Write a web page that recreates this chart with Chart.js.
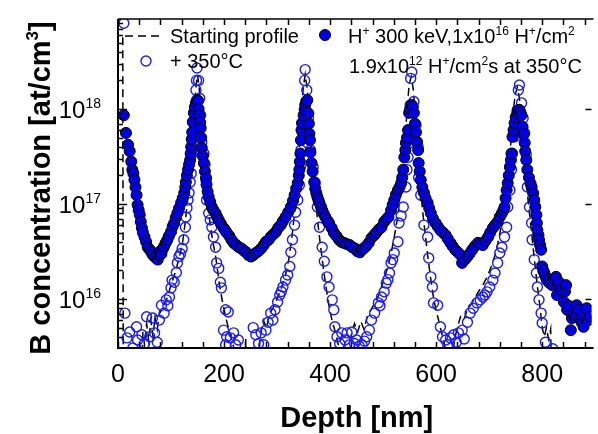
<!DOCTYPE html>
<html>
<head>
<meta charset="utf-8">
<script src="https://cdn.jsdelivr.net/npm/chart.js@4.4.1/dist/chart.umd.min.js"></script>
<style>
  html, body { margin: 0; padding: 0; background: #fff; }
  #wrap { width: 598px; height: 434px; }
</style>
</head>
<body>
<div id="wrap"><canvas id="chart" width="598" height="434"></canvas></div>
<script>
// H+ implanted (filled circles)
const filledDepth = [11, 15, 19, 22, 25, 27, 29, 31, 33, 35, 37, 39, 41, 43, 45, 47, 50, 53, 56, 60, 63, 66, 69, 72, 75, 78, 80, 82, 85, 87, 90, 93, 96, 100, 103, 106, 109, 112, 115, 119, 122, 125, 127, 128, 130, 132, 134, 136, 137, 138, 139, 140, 141, 143, 145, 147, 149, 151, 152, 153, 155, 156, 157, 158, 160, 162, 164, 166, 167, 169, 171, 174, 177, 180, 184, 187, 190, 194, 199, 202, 205, 210, 214, 218, 223, 228, 233, 238, 242, 246, 251, 255, 260, 265, 270, 275, 279, 284, 288, 293, 298, 302, 307, 311, 316, 321, 326, 330, 333, 336, 339, 341, 342, 343, 344, 345, 346, 347, 350, 352, 353, 355, 357, 359, 360, 361, 362, 363, 365, 367, 370, 372, 374, 376, 378, 380, 383, 385, 388, 391, 395, 398, 403, 407, 412, 417, 421, 426, 431, 437, 442, 447, 451, 456, 460, 463, 468, 473, 478, 483, 487, 492, 497, 502, 506, 510, 515, 518, 521, 524, 528, 531, 534, 536, 538, 540, 542, 543, 545, 547, 549, 551, 554, 556, 558, 560, 562, 564, 566, 567, 569, 571, 574, 577, 580, 584, 587, 590, 594, 599, 603, 608, 613, 618, 622, 627, 631, 636, 641, 646, 649, 654, 659, 663, 668, 673, 679, 683, 688, 693, 698, 702, 707, 711, 716, 720, 724, 727, 729, 731, 733, 735, 737, 739, 741, 742, 744, 746, 748, 750, 753, 755, 757, 759, 761, 763, 765, 767, 768, 770, 772, 775, 778, 780, 783, 785, 787, 789, 790, 791, 793, 794, 796, 798, 800, 802, 804, 807, 809, 813, 816, 819, 823, 826, 828, 830, 832, 835, 838, 841, 843, 845, 847, 850, 854, 856, 859, 863, 865, 868, 871, 874, 876, 878, 881, 884, 887, 890];
const filledConc = [8.6e17, 5.6e17, 4.2e17, 3.6e17, 2.8e17, 2.3e17, 2.1e17, 1.8e17, 1.5e17, 1.24e17, 9.8e16, 8.6e16, 7.7e16, 6.5e16, 5.6e16, 5.0e16, 4.5e16, 4.0e16, 3.5e16, 3.3e16, 3.1e16, 2.9e16, 2.8e16, 2.7e16, 2.6e16, 2.9e16, 3.2e16, 3.0e16, 3.4e16, 3.6e16, 3.9e16, 4.2e16, 4.6e16, 5.1e16, 5.8e16, 6.3e16, 7.2e16, 8.0e16, 9.0e16, 1.03e17, 1.15e17, 1.31e17, 1.5e17, 1.7e17, 2.0e17, 2.3e17, 2.6e17, 2.9e17, 3.4e17, 4.0e17, 4.8e17, 5.7e17, 7.3e17, 9.1e17, 1.05e18, 1.16e18, 1.24e18, 1.22e18, 1.0e18, 8.6e17, 7.2e17, 6.3e17, 5.0e17, 3.9e17, 3.2e17, 2.7e17, 2.2e17, 1.88e17, 1.6e17, 1.35e17, 1.19e17, 1.05e17, 9.3e16, 8.6e16, 8.0e16, 7.3e16, 6.8e16, 6.2e16, 5.6e16, 5.3e16, 5.0e16, 4.6e16, 4.2e16, 3.9e16, 3.7e16, 3.5e16, 3.4e16, 3.2e16, 3.1e16, 2.9e16, 2.8e16, 2.9e16, 3.05e16, 3.2e16, 3.4e16, 3.7e16, 4.0e16, 4.2e16, 4.5e16, 4.8e16, 5.1e16, 5.6e16, 6.0e16, 6.6e16, 7.3e16, 8.2e16, 9.3e16, 1.08e17, 1.24e17, 1.45e17, 1.66e17, 2.0e17, 2.3e17, 2.8e17, 3.4e17, 4.7e17, 6.0e17, 7.1e17, 8.6e17, 9.8e17, 1.1e18, 1.2e18, 1.24e18, 9.0e17, 7.0e17, 5.5e17, 4.7e17, 3.5e17, 2.7e17, 2.2e17, 1.7e17, 1.45e17, 1.3e17, 1.19e17, 1.1e17, 1.03e17, 9.3e16, 8.6e16, 7.9e16, 7.3e16, 6.7e16, 6.3e16, 5.6e16, 5.0e16, 4.6e16, 4.2e16, 4.0e16, 3.9e16, 3.8e16, 3.7e16, 3.5e16, 3.4e16, 3.2e16, 3.1e16, 3.3e16, 3.4e16, 3.6e16, 3.9e16, 4.4e16, 4.7e16, 5.0e16, 5.4e16, 5.7e16, 6.5e16, 6.9e16, 7.3e16, 8.6e16, 9.8e16, 1.1e17, 1.25e17, 1.4e17, 1.5e17, 1.66e17, 1.9e17, 2.3e17, 3.1e17, 3.7e17, 4.4e17, 5.0e17, 6.0e17, 9.1e17, 1.0e18, 1.1e18, 1.05e18, 9.1e17, 7.0e17, 5.7e17, 4.5e17, 3.7e17, 2.7e17, 2.2e17, 1.79e17, 1.5e17, 1.31e17, 1.15e17, 1.03e17, 9.0e16, 8.0e16, 7.0e16, 6.3e16, 5.8e16, 5.3e16, 5.0e16, 4.7e16, 4.3e16, 3.9e16, 3.6e16, 3.3e16, 3.1e16, 2.9e16, 2.4e16, 2.6e16, 2.8e16, 3.0e16, 3.3e16, 3.6e16, 3.9e16, 3.8e16, 3.7e16, 4.1e16, 4.5e16, 5.0e16, 5.6e16, 6.0e16, 6.5e16, 7.3e16, 8.0e16, 8.6e16, 9.3e16, 1.15e17, 1.4e17, 1.66e17, 2.0e17, 2.45e17, 2.9e17, 3.4e17, 5.1e17, 6.0e17, 7.1e17, 8.2e17, 9.1e17, 9.6e17, 9.8e17, 9.2e17, 8.6e17, 6.5e17, 5.4e17, 4.4e17, 3.6e17, 2.9e17, 2.3e17, 1.9e17, 1.65e17, 1.51e17, 1.3e17, 1.1e17, 9.3e16, 7.7e16, 6.3e16, 5.3e16, 4.7e16, 4.2e16, 3.7e16, 3.3e16, 2.2e16, 2.0e16, 1.88e16, 1.7e16, 1.58e16, 1.5e16, 1.45e16, 1.4e16, 1.55e16, 1.71e16, 1.1e16, 1.45e16, 1.5e16, 1.24e16, 1.3e16, 9.3e15, 1.2e16, 1.4e16, 7.7e15, 8.5e15, 4.7e15, 6.3e15, 7.0e15, 6.5e15, 8.6e15, 7.7e15, 6.2e15, 5.7e15, 6.8e15, 5.1e15, 6.5e15, 8.0e15, 6.0e15, 6.5e15];

// + 350°C (open circles)
const openDepth = [11, 13, 17, 22, 28, 35, 37, 45, 50, 54, 60, 65, 69, 74, 78, 82, 87, 91, 94, 97, 100, 102, 106, 110, 112, 115, 118, 121, 124, 127, 128, 130, 132, 134, 136, 138, 140, 143, 147, 147, 148, 149, 152, 154, 156, 158, 162, 164, 166, 167, 171, 174, 177, 180, 184, 186, 190, 193, 195, 199, 203, 203, 205, 208, 212, 218, 222, 227, 255, 260, 265, 270, 275, 279, 283, 288, 292, 296, 301, 305, 308, 311, 316, 320, 324, 326, 329, 333, 335, 339, 342, 344, 345, 348, 352, 352, 353, 356, 359, 363, 368, 372, 376, 380, 385, 389, 394, 398, 404, 407, 409, 413, 418, 422, 428, 432, 437, 441, 446, 450, 455, 460, 465, 469, 474, 478, 484, 491, 494, 497, 502, 506, 509, 512, 515, 518, 521, 528, 530, 534, 538, 543, 545, 547, 549, 550, 551, 552, 554, 558, 562, 566, 567, 571, 577, 584, 586, 590, 593, 595, 603, 608, 612, 618, 622, 627, 633, 638, 642, 649, 653, 659, 664, 670, 677, 683, 688, 692, 696, 701, 707, 711, 716, 720, 724, 729, 733, 735, 739, 742, 744, 748, 752, 753, 755, 757, 761, 764, 767, 770, 772, 776, 780, 781, 785, 789, 791, 794, 798, 800, 806, 820];
const openConc = [8.0e18, 7.1e15, 3.9e15, 4.5e15, 3.05e15, 5.1e15, 3.7e15, 4.2e15, 3.4e15, 6.5e15, 4.0e15, 6.3e15, 4.4e15, 3.5e15, 6.0e15, 8.6e15, 7.1e15, 9.8e15, 8.5e15, 1.05e16, 1.31e16, 1.58e16, 1.5e16, 1.9e16, 2.4e16, 2.8e16, 3.0e16, 3.4e16, 4.2e16, 5.7e16, 7.3e16, 9.1e16, 1.1e17, 1.31e17, 1.7e17, 2.1e17, 3.4e17, 4.5e17, 6.5e17, 1.58e18, 2.0e18, 2.7e18, 2.0e18, 1.3e18, 8.6e17, 4.5e17, 3.4e17, 2.6e17, 1.79e17, 1.1e17, 8.0e16, 6.8e16, 5.7e16, 4.5e16, 3.5e16, 2.4e16, 2.1e16, 1.5e16, 1.31e16, 4.7e15, 7.7e15, 3.3e15, 4.0e15, 7.3e15, 3.9e15, 4.4e15, 3.3e15, 3.7e15, 5.0e15, 4.2e15, 3.4e15, 4.4e15, 3.3e15, 4.7e15, 5.7e15, 7.1e15, 6.0e15, 7.7e15, 9.3e15, 1.1e16, 1.2e16, 1.34e16, 1.58e16, 1.79e16, 2.2e16, 3.1e16, 4.2e16, 6.0e16, 8.2e16, 1.1e17, 1.58e17, 2.45e17, 3.7e17, 5.6e17, 7.7e17, 2.0e18, 2.6e18, 1.58e18, 8.0e17, 3.7e17, 2.45e17, 1.66e17, 9.3e16, 5.7e16, 3.5e16, 2.5e16, 1.71e16, 1.34e16, 9.8e15, 7.7e15, 5.1e15, 4.0e15, 3.4e15, 4.4e15, 3.7e15, 4.4e15, 3.3e15, 4.5e15, 3.4e15, 3.7e15, 3.2e15, 3.3e15, 3.6e15, 4.0e15, 4.7e15, 6.0e15, 7.1e15, 9.1e15, 8.5e15, 1.05e16, 1.19e16, 1.47e16, 1.6e16, 1.88e16, 2.4e16, 2.6e16, 3.05e16, 4.0e16, 6.3e16, 7.5e16, 9.3e16, 1.51e17, 2.3e17, 3.1e17, 4.4e17, 6.0e17, 1.1e18, 2.1e18, 2.45e18, 1.2e18, 6.8e17, 4.0e17, 1.9e17, 1.24e17, 6.0e16, 4.5e16, 2.7e16, 1.71e16, 1.34e16, 9.1e15, 8.6e15, 5.1e15, 4.0e15, 3.7e15, 3.3e15, 3.9e15, 4.2e15, 3.5e15, 4.4e15, 4.7e15, 3.8e15, 5.7e15, 7.1e15, 8.0e15, 9.1e15, 9.8e15, 1.05e16, 1.1e16, 1.19e16, 1.34e16, 1.58e16, 1.88e16, 2.4e16, 3.05e16, 3.5e16, 4.5e16, 5.7e16, 9.3e16, 1.4e17, 2.3e17, 3.4e17, 5.1e17, 6.8e17, 9.8e17, 1.58e18, 1.79e18, 1.16e18, 8.0e17, 5.6e17, 3.3e17, 1.51e17, 9.3e16, 6.3e16, 4.2e16, 2.6e16, 1.88e16, 1.34e16, 9.8e15, 7.1e15, 5.6e15, 3.5e15, 3.0e15];

// Starting profile (dashed line); 1e15 = below the axis
const startDepth = [9, 10, 44, 47, 50, 54, 58, 62, 66, 70, 74, 78, 84, 92, 100, 108, 116, 122, 127, 131, 135, 139, 143, 147, 150, 153, 157, 161, 165, 169, 174, 179, 185, 190, 196, 203, 210, 216, 222, 228, 238, 241, 244, 262, 268, 274, 280, 286, 292, 300, 308, 316, 322, 328, 333, 337, 341, 345, 349, 353, 357, 361, 366, 371, 376, 381, 386, 391, 397, 404, 410, 416, 422, 436, 440, 446, 452, 458, 464, 470, 476, 484, 492, 500, 508, 515, 521, 527, 532, 537, 541, 545, 549, 553, 557, 561, 565, 570, 575, 580, 585, 590, 596, 603, 610, 616, 620, 630, 634, 640, 646, 652, 658, 664, 672, 680, 688, 696, 704, 712, 719, 725, 731, 736, 741, 745, 749, 753, 757, 761, 765, 770, 775, 780, 785, 790, 795, 800, 804, 808, 812, 816, 818, 893];
const startConc = [5.7e18, 1e15, 1e15, 4.5e15, 3.3e15, 5.5e15, 3.6e15, 6.0e15, 4.0e15, 6.5e15, 4.8e15, 7.0e15, 8.0e15, 1.0e16, 1.4e16, 1.9e16, 2.8e16, 4.0e16, 6.5e16, 1.1e17, 2.0e17, 4.0e17, 8.0e17, 1.7e18, 2.3e18, 1.7e18, 8.0e17, 3.6e17, 1.9e17, 1.0e17, 6.0e16, 4.0e16, 2.6e16, 1.6e16, 1.0e16, 6.5e15, 4.5e15, 3.5e15, 2.5e15, 1e15, 1e15, 3.8e15, 1e15, 1e15, 4.0e15, 6.0e15, 5.0e15, 7.0e15, 8.0e15, 1.0e16, 1.3e16, 1.8e16, 2.6e16, 4.5e16, 8.0e16, 1.5e17, 3.0e17, 6.5e17, 1.6e18, 2.3e18, 1.6e18, 7.0e17, 3.0e17, 1.4e17, 7.0e16, 4.0e16, 2.4e16, 1.5e16, 9.0e15, 5.8e15, 4.5e15, 3.2e15, 1e15, 1e15, 4.2e15, 5.5e15, 4.5e15, 5.8e15, 4.8e15, 6.5e15, 7.5e15, 9.0e15, 1.1e16, 1.5e16, 2.1e16, 3.0e16, 4.5e16, 7.0e16, 1.2e17, 2.3e17, 4.5e17, 9.5e17, 1.8e18, 2.2e18, 1.6e18, 8.0e17, 3.5e17, 1.6e17, 8.0e16, 4.5e16, 2.6e16, 1.6e16, 9.5e15, 6.5e15, 4.5e15, 3.3e15, 1e15, 1e15, 3.6e15, 5.0e15, 6.5e15, 6.0e15, 7.5e15, 8.5e15, 1.0e16, 1.2e16, 1.4e16, 1.7e16, 2.2e16, 3.0e16, 4.5e16, 7.0e16, 1.2e17, 2.2e17, 4.5e17, 9.0e17, 1.4e18, 1.7e18, 1.3e18, 7.0e17, 3.5e17, 1.7e17, 9.0e16, 5.0e16, 2.7e16, 1.5e16, 9.0e15, 5.0e15, 4.0e15, 5.0e15, 3.8e15, 4.8e15, 1e15, 1e15];

// axes
const xMin = 0;
const xMax = 893;
const yMin = 3.05e15;
const yMax = 8.86e18;
const xTickStep = 40;
const xLabels = [0, 200, 400, 600, 800];
const yDecades = [16, 17, 18];

const FONT = '"Liberation Sans", Arial, Helvetica, sans-serif';

function pairs(xs, ys) {
  return xs.map((x, i) => ({ x, y: ys[i] }));
}

// text pieces [text, isSup], drawn from x (left) on baseline y
function richWidth(ctx, parts, size, weight) {
  let w = 0;
  parts.forEach(([t, sup]) => {
    ctx.font = `${weight || ''} ${sup ? Math.round(size * 0.6) : size}px ${FONT}`;
    w += ctx.measureText(t).width;
  });
  return w;
}

function drawRich(ctx, parts, x, y, size, weight) {
  let cx = x;
  parts.forEach(([t, sup]) => {
    const s = sup ? Math.round(size * 0.6) : size;
    ctx.font = `${weight || ''} ${s}px ${FONT}`;
    ctx.fillText(t, cx, sup ? y - size * 0.42 : y);
    cx += ctx.measureText(t).width;
  });
  return cx;
}

const framePlugin = {
  id: 'frame',
  afterDraw(chart) {
    const { ctx, chartArea: a, scales } = chart;
    const xs = scales.x;
    const ys = scales.y;
    ctx.save();
    ctx.strokeStyle = '#000';
    ctx.fillStyle = '#000';
    ctx.textBaseline = 'alphabetic';
    ctx.textAlign = 'left';

    // frame lines
    ctx.lineWidth = 2;
    ctx.beginPath();
    ctx.moveTo(a.left, a.top);
    ctx.lineTo(a.left, a.bottom);
    ctx.lineTo(a.right + 2, a.bottom);
    ctx.stroke();
    ctx.lineWidth = 1.5;
    ctx.beginPath();
    ctx.moveTo(a.left, a.top);
    ctx.lineTo(a.right + 2, a.top);
    ctx.stroke();

    // x ticks, pointing inwards, bottom and top
    ctx.lineWidth = 1.5;
    for (let v = xMin; v <= xMax; v += xTickStep) {
      const px = Math.round(xs.getPixelForValue(v)) + 0.5;
      ctx.beginPath();
      ctx.moveTo(px, a.bottom);
      ctx.lineTo(px, a.bottom - 6);
      ctx.moveTo(px, a.top);
      ctx.lineTo(px, a.top + 6);
      ctx.stroke();
    }

    // y ticks: majors at decades, minors 2..9
    for (let e = 15; e <= 18; e++) {
      for (let m = 1; m <= 9; m++) {
        const v = m * Math.pow(10, e);
        if (v < yMin || v > yMax) continue;
        const py = Math.round(ys.getPixelForValue(v)) + 0.5;
        const len = m === 1 ? 9 : 5;
        ctx.beginPath();
        ctx.moveTo(a.left, py);
        ctx.lineTo(a.left + len, py);
        if (m === 1) {
          ctx.moveTo(a.right, py);
          ctx.lineTo(a.right - 6, py);
        }
        ctx.stroke();
      }
    }

    // x tick labels
    ctx.font = `25px ${FONT}`;
    ctx.textAlign = 'center';
    xLabels.forEach((v) => {
      ctx.fillText(String(v), xs.getPixelForValue(v), a.bottom + 34);
    });

    // y tick labels 10^n
    ctx.textAlign = 'left';
    yDecades.forEach((e) => {
      const py = ys.getPixelForValue(Math.pow(10, e));
      const parts = [['10', false], [String(e), true]];
      const w = richWidth(ctx, parts, 24);
      drawRich(ctx, parts, 101 - w, py + 9, 24);
    });

    // axis titles
    ctx.font = `bold 29px ${FONT}`;
    ctx.textAlign = 'center';
    ctx.fillText('Depth [nm]', (a.left + a.right) / 2 + 2, 427);

    ctx.save();
    ctx.translate(50, 188);
    ctx.rotate(-Math.PI / 2);
    ctx.textAlign = 'left';
    const yTitle = [['B concentration [at/cm', false], ['3', true], [']', false]];
    const tw = richWidth(ctx, yTitle, 29, 'bold');
    drawRich(ctx, yTitle, -tw / 2, 0, 29, 'bold');
    ctx.restore();

    // legend
    ctx.textAlign = 'left';
    ctx.lineWidth = 1.5;
    ctx.setLineDash([8, 5]);
    ctx.beginPath();
    ctx.moveTo(125, 36);
    ctx.lineTo(164, 36);
    ctx.stroke();
    ctx.setLineDash([]);
    drawRich(ctx, [['Starting profile', false]], 170, 43, 20);

    ctx.strokeStyle = '#1a1aff';
    ctx.lineWidth = 1.4;
    ctx.beginPath();
    ctx.arc(146, 61, 5, 0, Math.PI * 2);
    ctx.stroke();
    ctx.fillStyle = '#000';
    drawRich(ctx, [['+ 350°C', false]], 170, 68, 20);

    ctx.fillStyle = '#0000e6';
    ctx.strokeStyle = '#000';
    ctx.lineWidth = 1;
    ctx.beginPath();
    ctx.arc(325, 35, 5.5, 0, Math.PI * 2);
    ctx.fill();
    ctx.stroke();
    ctx.fillStyle = '#000';
    drawRich(ctx, [['H', false], ['+', true], [' 300 keV,1x10', false], ['16', true],
      [' H', false], ['+', true], ['/cm', false], ['2', true]], 348, 43, 20);
    drawRich(ctx, [['1.9x10', false], ['12', true], [' H', false], ['+', true],
      ['/cm', false], ['2', true], ['s at 350°C', false]], 349, 73, 20);

    ctx.restore();
  },
};

const chart = new Chart(document.getElementById('chart'), {
  type: 'scatter',
  data: {
    datasets: [
      {
        label: 'H+ 300 keV',
        data: pairs(filledDepth, filledConc),
        pointRadius: 5.5,
        pointBackgroundColor: '#0000e6',
        pointBorderColor: '#000',
        pointBorderWidth: 1,
        clip: 0,
      },
      {
        label: '+ 350°C',
        data: pairs(openDepth, openConc),
        pointRadius: 5,
        pointBackgroundColor: 'rgba(0,0,0,0)',
        pointBorderColor: '#1a1aff',
        pointBorderWidth: 1.4,
        clip: 0,
      },
      {
        label: 'Starting profile',
        data: pairs(startDepth, startConc),
        showLine: true,
        pointRadius: 0,
        borderColor: '#000',
        borderWidth: 1.5,
        borderDash: [8, 5],
        tension: 0,
        clip: 0,
      },
    ],
  },
  options: {
    responsive: false,
    devicePixelRatio: 1,
    animation: false,
    layout: { padding: { left: 118, top: 19, right: 0, bottom: 86 } },
    scales: {
      x: { type: 'linear', min: xMin, max: xMax, bounds: 'data', display: false },
      y: { type: 'logarithmic', min: yMin, max: yMax, bounds: 'data', display: false },
    },
    plugins: {
      legend: { display: false },
      tooltip: { enabled: false },
    },
  },
  plugins: [framePlugin],
});
</script>
</body>
</html>
